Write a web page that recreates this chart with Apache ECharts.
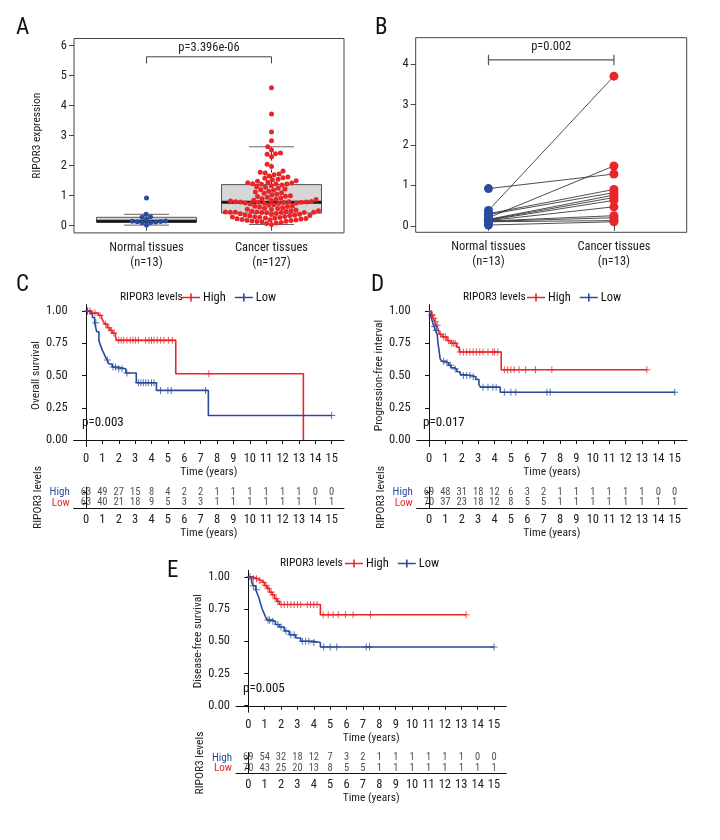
<!DOCTYPE html>
<html><head><meta charset="utf-8">
<script src="https://cdn.jsdelivr.net/npm/echarts@6/dist/echarts.min.js"></script>
<style>html,body{margin:0;padding:0;background:#fff}#c{width:720px;height:840px}</style>
</head><body><div id="c"></div>
<script>
const FAM = 'Roboto';
const TX = (size, extra) => Object.assign({ fontFamily: FAM, fontStyle: 'condensed', fontWeight: 'normal', fontSize: size, color: '#222' }, extra || {});
const RED = '#E8262A', BLUE = '#2B4C9C';

// ---------- Panel A / B data ----------
const groups = ['Normal tissues', 'Cancer tissues'];
const normalExpr = [0.02, 0.10, 0.11, 0.12, 0.13, 0.14, 0.15, 0.16, 0.20, 0.28, 0.30, 0.38, 0.92];
const cancerExpr = [4.6, 3.72, 3.12, 2.83, 2.63, 2.52, 2.42, 2.40, 2.38, 2.30, 2.05, 1.97,
  1.82, 1.78, 1.76, 1.72, 1.70, 1.66, 1.62, 1.60, 1.58, 1.55, 1.53, 1.50, 1.48, 1.45, 1.43, 1.42, 1.40, 1.40, 1.39,
  1.38, 1.36,
  1.33, 1.30, 1.28, 1.25, 1.22, 1.20, 1.18, 1.15, 1.12, 1.10, 1.08, 1.05, 1.02, 1.00, 0.98, 0.97, 0.95, 0.92, 0.90, 0.88, 0.87, 0.85, 0.84, 0.82, 0.81, 0.80, 0.80, 0.79, 0.79, 0.78,
  0.78,
  0.77, 0.76, 0.76, 0.75, 0.74, 0.72, 0.70, 0.68, 0.66, 0.65, 0.64, 0.62, 0.60, 0.58, 0.57, 0.55, 0.54, 0.52, 0.50, 0.50, 0.48, 0.47, 0.46, 0.46, 0.45, 0.45, 0.45, 0.44, 0.44, 0.44,
  0.43,
  0.41, 0.40, 0.38, 0.37, 0.36, 0.35, 0.34, 0.33, 0.32, 0.31, 0.30, 0.29, 0.28, 0.27, 0.26, 0.25, 0.24, 0.23, 0.22, 0.21, 0.20, 0.19, 0.18, 0.17, 0.16, 0.15, 0.14, 0.13, 0.11, 0.09, 0.07, 0.04];
// paired cancer values, same order as normalExpr
const pairedCancer = [0.10, 0.13, 0.20, 0.25, 0.47, 0.63, 0.70, 0.76, 1.48, 0.82, 0.90, 3.70, 1.28];
const exprTicks = [0, 1, 2, 3, 4, 5, 6];
const pairedTicks = [0, 1, 2, 3, 4];
const pTextA = 'p=3.396e-06';
const pTextB = 'p=0.002';

// ---------- Kaplan-Meier data ----------
const timeTicks = [0,1,2,3,4,5,6,7,8,9,10,11,12,13,14,15];
const survTicks = [0, 0.25, 0.5, 0.75, 1];

const osHigh = [[0,1],[0.35,0.984],[0.75,0.968],[0.95,0.95],[1.05,0.92],[1.15,0.9],[1.3,0.87],[1.45,0.85],[1.6,0.83],[1.8,0.80],[1.87,0.773],[5.48,0.514],[13.27,0]];
const osHighCens = [0.1,0.25,0.55,0.85,1.2,1.4,1.55,1.7,2.0,2.15,2.3,2.5,2.7,2.87,3.03,3.2,3.64,3.85,4.0,4.15,4.35,4.56,4.76,5.03,5.27,7.5];
const osLow = [[0,1],[0.25,0.98],[0.39,0.95],[0.53,0.91],[0.65,0.84],[0.79,0.77],[0.9,0.73],[1.0,0.695],[1.1,0.67],[1.2,0.64],[1.3,0.62],[1.4,0.59],[1.6,0.566],[1.9,0.553],[2.43,0.52],[3.07,0.444],[4.3,0.385],[7.47,0.19],[15,0.19]];
const osLowCens = [0.1,0.6,1.3,1.65,1.8,2.0,2.2,2.5,3.2,3.35,3.5,3.65,3.8,4.0,4.15,4.55,5.0,5.2,7.3,15];
const osRiskHigh = [63,49,27,15,8,4,2,2,1,1,1,1,1,1,0,0];
const osRiskLow  = [63,40,21,18,9,5,3,3,1,1,1,1,1,1,1,1];
const osP = 'p=0.003';

const pfiHigh = [[0,1],[0.15,0.97],[0.25,0.945],[0.35,0.92],[0.45,0.89],[0.55,0.86],[0.65,0.82],[0.8,0.80],[1.1,0.77],[1.35,0.75],[1.7,0.72],[1.85,0.683],[4.41,0.545],[13.3,0.545]];
const pfiHighCens = [0.2,0.3,0.4,0.5,0.7,0.9,1.0,1.2,1.4,1.5,1.6,1.9,2.1,2.3,2.5,2.7,2.9,3.1,3.3,3.6,3.9,4.0,4.2,4.6,4.8,5.0,5.2,5.5,5.9,6.5,7.5,13.3];
const pfiLow = [[0,1],[0.1,0.97],[0.2,0.92],[0.3,0.88],[0.4,0.85],[0.5,0.82],[0.55,0.75],[0.62,0.69],[0.68,0.63],[0.8,0.61],[1.0,0.6],[1.2,0.58],[1.35,0.56],[1.55,0.55],[1.7,0.53],[1.9,0.51],[2.0,0.5],[2.6,0.49],[2.85,0.47],[3.05,0.43],[3.15,0.41],[4.35,0.37],[15,0.37]];
const pfiLowCens = [0.15,0.35,0.45,0.9,1.1,1.3,1.6,2.1,2.3,2.5,2.7,3.3,3.6,3.9,4.1,4.6,5.0,5.3,7.2,7.4,15];
const pfiRiskHigh = [69,48,31,18,12,6,3,2,1,1,1,1,1,1,0,0];
const pfiRiskLow  = [70,37,23,18,12,8,5,5,1,1,1,1,1,1,1,1];
const pfiP = 'p=0.017';

const dfsHigh = [[0,1],[0.25,0.985],[0.6,0.97],[0.8,0.955],[1.0,0.93],[1.15,0.91],[1.3,0.88],[1.45,0.86],[1.6,0.83],[1.75,0.81],[1.9,0.785],[4.4,0.705],[13.3,0.705]];
const dfsHighCens = [0.3,0.5,0.7,0.9,1.1,1.2,1.4,1.5,1.7,1.8,2.0,2.2,2.4,2.6,2.8,3.0,3.2,3.6,3.8,4.0,4.2,4.57,4.88,5.18,5.49,5.93,6.4,7.46,13.3];
const dfsLow = [[0,1],[0.2,0.96],[0.3,0.93],[0.45,0.9],[0.55,0.87],[0.65,0.835],[0.75,0.79],[0.85,0.75],[0.95,0.72],[1.05,0.69],[1.15,0.665],[1.45,0.655],[1.65,0.63],[1.9,0.61],[2.2,0.58],[2.5,0.55],[2.9,0.525],[3.2,0.5],[4.0,0.49],[4.4,0.455],[15,0.455]];
const dfsLowCens = [0.1,0.3,0.5,1.2,1.3,1.5,1.8,2.0,2.3,2.6,2.8,3.3,3.5,3.7,4.0,4.6,5.0,5.4,7.2,7.4,15];
const dfsRiskHigh = [69,54,32,18,12,7,3,2,1,1,1,1,1,1,0,0];
const dfsRiskLow  = [70,43,25,20,13,8,5,5,1,1,1,1,1,1,1,1];
const dfsP = 'p=0.005';

// ---------- helpers ----------
function quant(s, p) { const h = (s.length - 1) * p, lo = Math.floor(h); const hi = Math.min(lo + 1, s.length - 1); return s[lo] + (h - lo) * (s[hi] - s[lo]); }
function boxStats(vals) {
  const s = [...vals].sort((a, b) => a - b);
  const q1 = quant(s, .25), med = quant(s, .5), q3 = quant(s, .75), iqr = q3 - q1;
  const lo = s.find(v => v >= q1 - 1.5 * iqr);
  const hi = [...s].reverse().find(v => v <= q3 + 1.5 * iqr);
  return [lo, q1, med, q3, hi];
}
function swarm(values, pxX, pxY, d) {
  const idx = values.map((v, i) => i).sort((a, b) => values[a] - values[b]);
  const placed = [], off = new Array(values.length);
  idx.forEach(i => {
    const y = values[i] * pxY;
    const cands = [0];
    placed.forEach(p => { const dy = Math.abs(p.y - y); if (dy < d) { const dx = Math.sqrt(d * d - dy * dy); cands.push(p.x + dx, p.x - dx); } });
    cands.sort((a, b) => Math.abs(a) - Math.abs(b) || a - b);
    let chosen = 0;
    for (const c of cands) { if (placed.every(p => (p.x - c) ** 2 + (p.y - y) ** 2 >= d * d - 1e-6)) { chosen = c; break; } }
    placed.push({ x: chosen, y });
    off[i] = chosen / pxX;
  });
  return off;
}
function survAt(curve, t) { let s = curve[0][1]; for (const p of curve) { if (p[0] <= t) s = p[1]; } return s; }

// ---------- layout ----------
const gA = { left: 74, top: 38.5, width: 270, height: 194.4 }, yA = [-0.24, 6.24], xAB = [0.42, 2.58];
const gB = { left: 415.7, top: 37.7, width: 271, height: 194.6 }, yB = [-0.16, 4.65];
const gKM = [{ left: 73.7, top: 304.6 }, { left: 416.7, top: 304.6 }, { left: 236, top: 570.3 }];
const gRisk = [{ left: 73.7, top: 487 }, { left: 416.7, top: 487 }, { left: 236, top: 752.5 }];
const KMW = 270.3, KMH = 141.9, RH = 21;
const tRange = [-0.75, 15.75], sRange = [-0.05, 1.05];

const grids = [gA, gB].concat(gKM.map(g => ({ left: g.left, top: g.top, width: KMW, height: KMH })))
  .concat(gRisk.map(g => ({ left: g.left, top: g.top, width: KMW, height: RH })));
grids.forEach((g, i) => { if (i < 2) { g.show = true; g.borderColor = '#444'; g.borderWidth = 1; g.backgroundColor = 'transparent'; } });

const xAxes = [], yAxes = [];
[[gA, yA, exprTicks, [normalExpr.length, cancerExpr.length]], [gB, yB, pairedTicks, [normalExpr.length, pairedCancer.length]]].forEach((d, i) => {
  const counts = d[3];
  xAxes.push({ gridIndex: i, type: 'value', min: xAB[0], max: xAB[1], splitLine: { show: false }, axisLine: { show: false },
    axisTick: { show: true, length: 5, customValues: [1, 2], lineStyle: { color: '#444' } },
    axisLabel: Object.assign({ customValues: [1, 2], margin: 7, lineHeight: 15, formatter: v => groups[v - 1] + '\n(n=' + counts[v - 1] + ')' }, TX(12.5)) });
  yAxes.push({ gridIndex: i, type: 'value', min: d[1][0], max: d[1][1], splitLine: { show: false }, axisLine: { show: false },
    axisTick: { show: true, length: 5, customValues: d[2], lineStyle: { color: '#444' } },
    axisLabel: Object.assign({ customValues: d[2], margin: 7 }, TX(12.5)),
    name: i === 0 ? 'RIPOR3 expression' : '', nameLocation: 'middle', nameRotate: 90, nameGap: 31, nameTextStyle: TX(11.5) });
});
const kmNames = ['Overall survival', 'Progression-free interval', 'Disease-free survival'];
for (let k = 0; k < 3; k++) {
  xAxes.push({ gridIndex: 2 + k, type: 'value', min: tRange[0], max: tRange[1], splitLine: { show: false },
    axisLine: { show: true, lineStyle: { color: '#111', width: 1 } },
    axisTick: { show: true, length: 4, customValues: timeTicks, lineStyle: { color: '#111' } },
    axisLabel: Object.assign({ customValues: timeTicks, margin: 6 }, TX(12.5)),
    name: 'Time (years)', nameLocation: 'middle', nameGap: 20, nameTextStyle: TX(11.5) });
  yAxes.push({ gridIndex: 2 + k, type: 'value', min: sRange[0], max: sRange[1], splitLine: { show: false },
    axisLine: { show: true, lineStyle: { color: '#111', width: 1 } },
    axisTick: { show: true, length: 4, customValues: survTicks, lineStyle: { color: '#111' } },
    axisLabel: Object.assign({ customValues: survTicks, margin: 6, formatter: v => v.toFixed(2) }, TX(12.5)),
    name: kmNames[k], nameLocation: 'middle', nameRotate: 90, nameGap: 27, nameTextStyle: TX(11.5) });
}
for (let k = 0; k < 3; k++) {
  xAxes.push({ gridIndex: 5 + k, type: 'value', min: tRange[0], max: tRange[1], splitLine: { show: false },
    axisLine: { show: true, lineStyle: { color: '#111', width: 1 } },
    axisTick: { show: false },
    axisLabel: Object.assign({ customValues: timeTicks, margin: 5 }, TX(12.5)),
    name: 'Time (years)', nameLocation: 'middle', nameGap: 19, nameTextStyle: TX(11.5) });
  yAxes.push({ gridIndex: 5 + k, type: 'category', data: ['Low', 'High'],
    splitLine: { show: false },
    axisLine: { show: true, lineStyle: { color: '#111', width: 1 } },
    axisTick: { show: true, length: 3, alignWithLabel: true, interval: 0, lineStyle: { color: '#111' } },
    axisLabel: Object.assign({ interval: 0, margin: 4, formatter: v => v === 'High' ? '{h|High}' : '{l|Low}',
      rich: { h: TX(11, { color: BLUE }), l: TX(11, { color: RED }) } }, TX(11)),
    name: 'RIPOR3 levels', nameLocation: 'middle', nameRotate: 90, nameGap: 30, nameTextStyle: TX(11.5) });
}

// ---------- series ----------
const series = [];
const boxRender = (params, api) => {
  const x = api.value(0), lo = api.value(1), q1 = api.value(2), med = api.value(3), q3 = api.value(4), hi = api.value(5);
  const c = (a, b) => api.coord([a, b]);
  const a = c(x - 0.4, q3), b = c(x + 0.4, q1);
  const ln = (p1, p2, style) => ({ type: 'line', shape: { x1: p1[0], y1: p1[1], x2: p2[0], y2: p2[1] }, style: Object.assign({ stroke: '#555', lineWidth: 1 }, style) });
  return { type: 'group', children: [
    { type: 'rect', shape: { x: a[0], y: a[1], width: b[0] - a[0], height: b[1] - a[1] }, style: { fill: '#d6d6d6', stroke: '#555', lineWidth: 1 } },
    ln(c(x, q3), c(x, hi), { lineDash: [3, 3], stroke: '#333' }),
    ln(c(x, q1), c(x, lo), { lineDash: [3, 3], stroke: '#333' }),
    ln(c(x - 0.18, hi), c(x + 0.18, hi), { stroke: '#666' }),
    ln(c(x - 0.18, lo), c(x + 0.18, lo), { stroke: '#666' }),
    ln(c(x - 0.4, med), c(x + 0.4, med), { stroke: '#1a1a1a', lineWidth: 3 })
  ] };
};
series.push({ type: 'custom', xAxisIndex: 0, yAxisIndex: 0, z: 1, renderItem: boxRender,
  data: [[1].concat(boxStats(normalExpr)), [2].concat(boxStats(cancerExpr))], silent: true });

const pxXA = gA.width / (xAB[1] - xAB[0]), pxYA = gA.height / (yA[1] - yA[0]);
const offN = swarm(normalExpr, pxXA, pxYA, 5.0), offC = swarm(cancerExpr, pxXA, pxYA, 5.0);
series.push({ type: 'scatter', xAxisIndex: 0, yAxisIndex: 0, z: 3, symbolSize: 5, itemStyle: { color: BLUE, opacity: 1 },
  data: normalExpr.map((v, i) => [1 + offN[i], v]) });
series.push({ type: 'scatter', xAxisIndex: 0, yAxisIndex: 0, z: 3, symbolSize: 5, itemStyle: { color: RED, opacity: 1 },
  data: cancerExpr.map((v, i) => [2 + offC[i], v]) });

const FONT12 = 'condensed 12.5px ' + FAM;
series.push({ type: 'custom', xAxisIndex: 0, yAxisIndex: 0, z: 4, silent: true, data: [[1, 2]],
  renderItem: (params, api) => {
    const x1 = api.value(0), x2 = api.value(1), top = 5.63, leg = 5.41;
    const p1 = api.coord([x1, leg]), p2 = api.coord([x1, top]), p3 = api.coord([x2, top]), p4 = api.coord([x2, leg]), t = api.coord([(x1 + x2) / 2, 5.93]);
    return { type: 'group', children: [
      { type: 'polyline', shape: { points: [p1, p2, p3, p4] }, style: { stroke: '#444', lineWidth: 1, fill: 'none' } },
      { type: 'text', x: t[0], y: t[1], style: { text: pTextA, fill: '#222', font: FONT12, align: 'center', verticalAlign: 'middle' } }
    ] };
  } });

series.push({ type: 'custom', xAxisIndex: 1, yAxisIndex: 1, z: 2, silent: true,
  data: normalExpr.map((v, i) => [v, pairedCancer[i]]),
  renderItem: (params, api) => {
    const a = api.coord([1, api.value(0)]), b = api.coord([2, api.value(1)]);
    return { type: 'line', shape: { x1: a[0], y1: a[1], x2: b[0], y2: b[1] }, style: { stroke: '#222', lineWidth: 0.8 } };
  } });
series.push({ type: 'scatter', xAxisIndex: 1, yAxisIndex: 1, z: 3, symbolSize: 9, itemStyle: { color: BLUE, opacity: 1 },
  data: normalExpr.map(v => [1, v]) });
series.push({ type: 'scatter', xAxisIndex: 1, yAxisIndex: 1, z: 3, symbolSize: 9, itemStyle: { color: RED, opacity: 1 },
  data: pairedCancer.map(v => [2, v]) });
series.push({ type: 'custom', xAxisIndex: 1, yAxisIndex: 1, z: 4, silent: true, data: [[1, 2]],
  renderItem: (params, api) => {
    const x1 = api.value(0), x2 = api.value(1), yb = 4.1, h = 0.13;
    const c = (a, b) => api.coord([a, b]);
    const ln = (p, q) => ({ type: 'line', shape: { x1: p[0], y1: p[1], x2: q[0], y2: q[1] }, style: { stroke: '#555', lineWidth: 1.2 } });
    const t = c((x1 + x2) / 2, 4.42);
    return { type: 'group', children: [
      ln(c(x1, yb), c(x2, yb)), ln(c(x1, yb - h), c(x1, yb + h)), ln(c(x2, yb - h), c(x2, yb + h)),
      { type: 'text', x: t[0], y: t[1], style: { text: pTextB, fill: '#222', font: FONT12, align: 'center', verticalAlign: 'middle' } }
    ] };
  } });

const CROSS = 'path://M4.3,0H5.7V4.3H10V5.7H5.7V10H4.3V5.7H0V4.3H4.3Z';
const kmSets = [[osHigh, osHighCens, osLow, osLowCens], [pfiHigh, pfiHighCens, pfiLow, pfiLowCens], [dfsHigh, dfsHighCens, dfsLow, dfsLowCens]];
kmSets.forEach((s, k) => {
  [[s[0], s[1], 'High', RED], [s[2], s[3], 'Low', BLUE]].forEach(d => {
    series.push({ type: 'line', name: d[2], xAxisIndex: 2 + k, yAxisIndex: 2 + k, step: 'end', showSymbol: false, symbol: 'none',
      lineStyle: { color: d[3], width: 1.6 }, itemStyle: { color: d[3] }, data: d[0], z: 3 });
    series.push({ type: 'scatter', xAxisIndex: 2 + k, yAxisIndex: 2 + k, symbol: CROSS, symbolSize: 7, itemStyle: { color: d[3] }, z: 4,
      data: d[1].map(t => [t, survAt(d[0], t)]) });
  });
});
const risks = [[osRiskHigh, osRiskLow], [pfiRiskHigh, pfiRiskLow], [dfsRiskHigh, dfsRiskLow]];
risks.forEach((r, k) => {
  [['High', r[0]], ['Low', r[1]]].forEach(d => {
    series.push({ type: 'scatter', xAxisIndex: 5 + k, yAxisIndex: 5 + k, symbolSize: 1, silent: true, itemStyle: { color: 'rgba(0,0,0,0)' },
      label: Object.assign({ show: true, position: 'inside', formatter: p => String(p.value[2]) }, TX(10.5)),
      data: timeTicks.map((t, i) => [t, d[0], d[1][i]]) });
  });
});

// ---------- titles / legends ----------
const T = (text, left, top, size) => ({ text, left, top, padding: 0, textStyle: TX(size, { color: '#111' }) });
const titles = [T('A', 16, 17, 23), T('B', 375, 17, 23), T('C', 16, 274, 23), T('D', 371, 274, 23), T('E', 167, 560, 23),
  T('RIPOR3 levels', 120, 291, 11.5), T('RIPOR3 levels', 463, 291, 11.5), T('RIPOR3 levels', 280, 557, 11.5),
  T(osP, 82, 416, 13), T(pfiP, 423, 416, 13), T(dfsP, 243, 682, 13)];
const LEG = 'path://M0,3.2H18V4.8H0Z M8.2,0H9.8V8H8.2Z';
const legends = [[182, 291], [527, 291], [345, 557]].map(p => ({ left: p[0], top: p[1], padding: 0, data: ['High', 'Low'], icon: LEG, itemWidth: 18, itemHeight: 8,
  itemGap: 9, selectedMode: false, textStyle: TX(12.5, { color: '#111', padding: [0, 0, 0, -2] }) }));

const chart = echarts.init(document.getElementById('c'), null, { renderer: 'canvas' });
chart.setOption({ animation: false, backgroundColor: '#fff', textStyle: { fontFamily: FAM },
  title: titles, legend: legends, grid: grids, xAxis: xAxes, yAxis: yAxes, series });
</script></body></html>
